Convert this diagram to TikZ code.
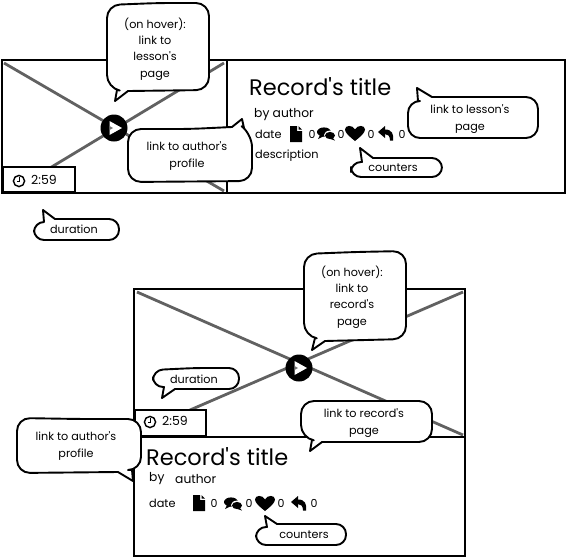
\documentclass[tikz,border=0pt]{standalone}
\usepackage{fontspec}
\newfontfamily\hand{Poppins}
\tikzset{
  x=1pt,y=-1pt,
  frame/.style={draw=black,line width=2.6pt,fill=white},
  crossline/.style={draw=black!62,line width=2.8pt},
  bubble/.style={draw=black,line width=1.9pt,fill=white,line join=round},
  lbl/.style={font=\hand\fontsize{11.2}{16.2}\selectfont,align=center,inner sep=0pt,text=black},
  meta/.style={font=\hand\fontsize{11.3}{12}\selectfont,inner sep=0pt,text=black},
  metabig/.style={font=\hand\fontsize{12.3}{13}\selectfont,inner sep=0pt,text=black},
  timelbl/.style={font=\hand\fontsize{12.5}{14}\selectfont,inner sep=0pt,text=black},
  count/.style={font=\hand\fontsize{11}{12}\selectfont,inner sep=0pt,text=black},
  rectitle/.style={font=\hand\fontsize{22.5}{25}\selectfont,inner sep=0pt,text=black,anchor=west},
  docicon/.pic={\fill[black] (-6,-8) -- (1,-8) -- (1,-3) -- (6,-3) -- (6,8) -- (-6,8) -- cycle; \fill[black] (2.5,-8) -- (6,-4.5) -- (2.5,-4.5) -- cycle;},
  commenticon/.pic={\fill[black] (-2,-2) ellipse [x radius=7,y radius=4.6]; \fill[black] (-6,1) -- (-8,5) -- (-2,2) -- cycle;
    \fill[white] (4,1) ellipse [x radius=6,y radius=4.4]; \fill[black] (4,1.5) ellipse [x radius=5,y radius=3.6]; \fill[black] (6,3) -- (9,6.5) -- (3,4.5) -- cycle;},
  hearticon/.pic={\fill[black] (0,8) .. controls (-5,4) and (-10,0) .. (-10,-3.5) .. controls (-10,-8) and (-2.5,-8.5) .. (0,-3.5) .. controls (2.5,-8.5) and (10,-8) .. (10,-3.5) .. controls (10,0) and (5,4) .. (0,8) -- cycle;},
  replyicon/.pic={\fill[black] (-8,-1) -- (-1,-7) -- (-1,-3.5) .. controls (6,-3.5) and (8,1) .. (7,7.5) -- (4,7.5) .. controls (4,3) and (2,1) .. (-1,1) -- (-1,5) -- cycle;},
  clockicon/.pic={\draw[black,line width=1.4pt,fill=white] (0,0) circle (5.6); \draw[black,line width=1.2pt] (0.6,-3.6) -- (0.6,0.8) -- (-2.4,0.8);},
  playicon/.pic={\fill[black] (0,0) circle (13.5); \fill[white] (-4.5,-7) -- (8,0) -- (-4.5,7) -- cycle; \fill[black!55] (-4.5,-2) -- (-1,0) -- (-4.5,2) -- cycle;},
}
\begin{document}
\begin{tikzpicture}
\useasboundingbox (0,0) rectangle (568,558);
\fill[white] (0,0) rectangle (568,558);

% --- upper card
\draw[frame] (227,60) rectangle (565,193);
\draw[frame] (2,60) rectangle (227,193);
\draw[crossline] (4,63) -- (224,191);
\draw[crossline] (224,63) -- (30,180);
\draw[frame,line width=2.2pt] (3,167) rectangle (75,192);
\pic at (19,181) {clockicon};
\node[timelbl,anchor=west] (timeA) at (31,180) {2:59};
\pic at (114,128) {playicon};
\node[rectitle] (titleA) at (249,87) {Record's title};
\node[metabig,anchor=west] (byA) at (254,115) {by author};
\node[meta,anchor=west] (dateA) at (255,134) {date};
\node[meta,anchor=west] (descA) at (255,156) {description};
\pic at (296,134) {docicon};
\node[count] (c1A) at (312,134) {0};
\pic at (326,134) {commenticon};
\node[count] (c2A) at (341,134) {0};
\pic at (355,133) {hearticon};
\node[count] (c3A) at (371,134) {0};
\pic at (386,133) {replyicon};
\node[count] (c4A) at (402,134) {0};

% --- lower card
\draw[frame] (134,289) rectangle (465,437);
\draw[crossline] (137,292) -- (463,435);
\draw[crossline] (463,292) -- (190,410);
\draw[frame,line width=2.2pt] (135,410) rectangle (206,436);
\pic at (150,422) {clockicon};
\node[timelbl,anchor=west] (timeB) at (162,421) {2:59};
\pic at (299,368) {playicon};
\draw[frame] (134,437) rectangle (465,556);
\node[rectitle] (titleB) at (146,457) {Record's title};
\node[metabig,anchor=west] (byB) at (149,479) {by};
\node[metabig,anchor=west] (authB) at (175,479) {author};
\node[meta,anchor=west] (dateB) at (149,503) {date};
\pic at (199,503) {docicon};
\node[count] (c1B) at (214,503) {0};
\pic at (233,504) {commenticon};
\node[count] (c2B) at (249,503) {0};
\pic at (265,503) {hearticon};
\node[count] (c3B) at (281,503) {0};
\pic at (299,503) {replyicon};
\node[count] (c4B) at (314,503) {0};

% --- upper callouts
\draw[bubble,rounded corners=13pt] (158,3) -- (209,3) -- (209,90) [sharp corners] -- (128,91) -- (115,101) -- (117,90) [rounded corners=13pt] -- (107,88) -- (107,5) -- cycle;
\node[lbl] (hoverA) at (155,49) {(on hover):\\link to\\lesson's\\page};
\draw[bubble,rounded corners=13pt] (190,129) [sharp corners] -- (232,127) -- (242,119) -- (244,128) [rounded corners=13pt] -- (252,134) -- (252,181) -- (128,182) -- (128,129) -- cycle;
\node[lbl] (authorA) at (187,156) {link to author's\\profile};
\draw[bubble,rounded corners=10pt] (80,219) -- (119,219) -- (119,240) -- (34,240) -- (34,222) [sharp corners] -- (44,222) -- (43,210) -- (55,219) [rounded corners=10pt] -- cycle;
\node[lbl] (durationA) at (74,229) {duration};
\draw[bubble,rounded corners=12pt] (470,97) -- (538,97) -- (538,138) -- (408,138) -- (408,101) [sharp corners] -- (418,101) -- (417,88) -- (432,97) [rounded corners=12pt] -- cycle;
\node[lbl] (lessonA) at (470,119) {link to lesson's\\page};
\draw[bubble,rounded corners=10pt] (400,158) -- (442,158) -- (442,177) -- (351,177) -- (351,162) [sharp corners] -- (362,162) -- (360,148) -- (373,158) [rounded corners=10pt] -- cycle;
\node[lbl] (countersA) at (393,168) {counters};

% --- lower callouts
\draw[bubble,rounded corners=13pt] (355,252) -- (406,251) -- (406,339) [sharp corners] -- (325,341) -- (312,350) -- (315,338) [rounded corners=13pt] -- (304,336) -- (304,254) -- cycle;
\node[lbl] (hoverB) at (352,297) {(on hover):\\link to\\record's\\page};
\draw[bubble,rounded corners=10pt] (195,368) -- (239,368) -- (239,389) [sharp corners] -- (175,389) -- (162,398) -- (164,387) [rounded corners=10pt] -- (153,387) -- (153,370) -- cycle;
\node[lbl] (durationB) at (194,379) {duration};
\draw[bubble,rounded corners=13pt] (365,401) -- (432,401) -- (432,442) [sharp corners] -- (322,442) -- (310,451) -- (312,440) [rounded corners=13pt] -- (301,438) -- (301,401) -- cycle;
\node[lbl] (recordB) at (364,423) {link to record's\\page};
\draw[bubble,rounded corners=13pt] (80,419) -- (141,419) -- (141,470) [sharp corners] -- (132,470) -- (133,481) -- (118,472) [rounded corners=13pt] -- (17,473) -- (17,418) -- cycle;
\node[lbl] (authorB) at (76,446) {link to author's\\profile};
\draw[bubble,rounded corners=10pt] (300,524) -- (346,524) -- (346,545) -- (256,545) -- (256,527) [sharp corners] -- (267,527) -- (265,516) -- (277,524) [rounded corners=10pt] -- cycle;
\node[lbl] (countersB) at (304,535) {counters};
\end{tikzpicture}
\end{document}
